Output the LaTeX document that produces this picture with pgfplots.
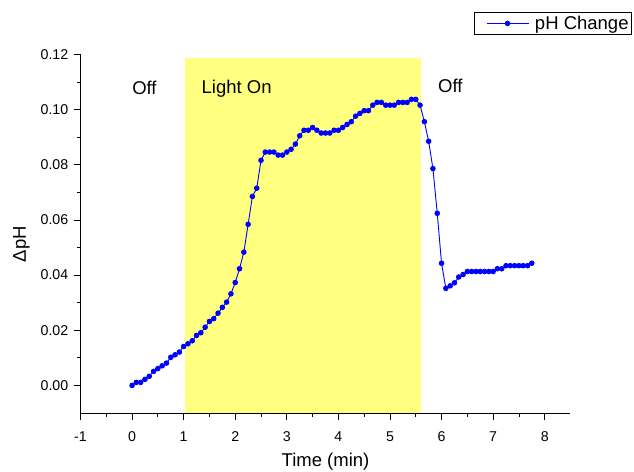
\documentclass[border=0pt]{standalone}
\usepackage{fontspec}
\setmainfont{Liberation Sans}
\usepackage{pgfplots}
\pgfplotsset{compat=1.18}
\definecolor{lightyellow}{RGB}{255,255,128}
\definecolor{phblue}{RGB}{0,0,255}
\begin{document}
\begin{tikzpicture}
\begin{axis}[
    width=490pt, height=358.6pt, scale only axis,
    xmin=-1, xmax=8.5, ymin=-0.01, ymax=0.12,
    axis x line=bottom, axis y line=left,
    axis line style={-, line width=0.9pt},
    xtick={-1,0,1,2,3,4,5,6,7,8},
    ytick={0,0.02,0.04,0.06,0.08,0.10,0.12},
    minor x tick num=1, minor y tick num=1,
    tick align=outside,
    major tick length=6.7pt, minor tick length=3.5pt,
    tick style={black, line width=0.8pt},
    scaled y ticks=false,
    yticklabel style={/pgf/number format/fixed, /pgf/number format/fixed zerofill, /pgf/number format/precision=2, xshift=-2pt},
    xticklabel style={yshift=-8pt},
    /pgf/number format/assume math mode=true,
    tick label style={font=\fontsize{14.2}{17}\selectfont},
    xlabel={Time (min)},
    ylabel={ΔpH},
    label style={font=\fontsize{18.5}{22}\selectfont},
    xlabel style={at={(axis description cs:0.5,-0.15)}, anchor=base},
    ylabel style={at={(axis description cs:-0.103,0.471)}, anchor=south, inner sep=0pt},
    legend style={at={(axis description cs:1.1255,1.118)}, anchor=north east,
        draw=black, line width=0.8pt, font=\fontsize{18.5}{22}\selectfont,
        inner xsep=1pt, inner ysep=1.5pt},
    legend image code/.code={\path (-11pt,0pt) (46pt,0pt);
        \draw[mark repeat=2, mark phase=2, #1] plot coordinates {(0pt,0pt) (21pt,0pt) (42pt,0pt)};},
]
% light-on period
\addplot[fill=lightyellow, draw=none, forget plot] coordinates {
    (1.03,-0.01) (1.03,0.1188) (5.6,0.1188) (5.6,-0.01)} -- cycle;

\addplot[phblue, line width=0.9pt, mark=*, mark size=2.3pt,
    mark options={fill=phblue, draw=phblue}] table {
t dpH
0.000 0.0000
0.083 0.0011
0.167 0.0011
0.250 0.0022
0.333 0.0033
0.417 0.0051
0.500 0.0061
0.583 0.0071
0.667 0.0081
0.750 0.0102
0.833 0.0111
0.917 0.0121
1.000 0.0141
1.083 0.0151
1.167 0.0162
1.250 0.0181
1.333 0.0191
1.417 0.0211
1.500 0.0232
1.583 0.0242
1.667 0.0262
1.750 0.0283
1.833 0.0302
1.917 0.0332
2.000 0.0373
2.083 0.0423
2.167 0.0483
2.250 0.0584
2.333 0.0685
2.417 0.0715
2.500 0.0816
2.583 0.0846
2.667 0.0846
2.750 0.0846
2.833 0.0835
2.917 0.0835
3.000 0.0846
3.083 0.0856
3.167 0.0875
3.250 0.0905
3.333 0.0925
3.417 0.0925
3.500 0.0935
3.583 0.0925
3.667 0.0915
3.750 0.0915
3.833 0.0915
3.917 0.0925
4.000 0.0925
4.083 0.0935
4.167 0.0946
4.250 0.0956
4.333 0.0976
4.417 0.0986
4.500 0.0996
4.583 0.0996
4.667 0.1016
4.750 0.1026
4.833 0.1026
4.917 0.1016
5.000 0.1016
5.083 0.1016
5.167 0.1026
5.250 0.1026
5.333 0.1026
5.417 0.1037
5.500 0.1037
5.583 0.1016
5.667 0.0956
5.750 0.0885
5.833 0.0786
5.917 0.0624
6.000 0.0443
6.083 0.0352
6.167 0.0361
6.250 0.0372
6.333 0.0393
6.417 0.0402
6.500 0.0413
6.583 0.0413
6.667 0.0413
6.750 0.0413
6.833 0.0413
6.917 0.0413
7.000 0.0413
7.083 0.0423
7.167 0.0423
7.250 0.0434
7.333 0.0434
7.417 0.0434
7.500 0.0434
7.583 0.0434
7.667 0.0434
7.750 0.0443
};
\addlegendentry{pH Change}

\node[anchor=base west, inner sep=0pt, font=\fontsize{18.5}{22}\selectfont] at (axis cs:0.0,0.1055) {Off};
\node[anchor=base west, inner sep=0pt, font=\fontsize{18.5}{22}\selectfont] at (axis cs:1.345,0.106) {Light On};
\node[anchor=base west, inner sep=0pt, font=\fontsize{18.5}{22}\selectfont] at (axis cs:5.93,0.1063) {Off};
\coordinate (sw) at (rel axis cs:0,0);
\end{axis}
\pgfresetboundingbox
\path[use as bounding box] ([shift={(-80.5pt,-58pt)}]sw) rectangle ++(634pt,471pt);
\end{tikzpicture}
\end{document}
